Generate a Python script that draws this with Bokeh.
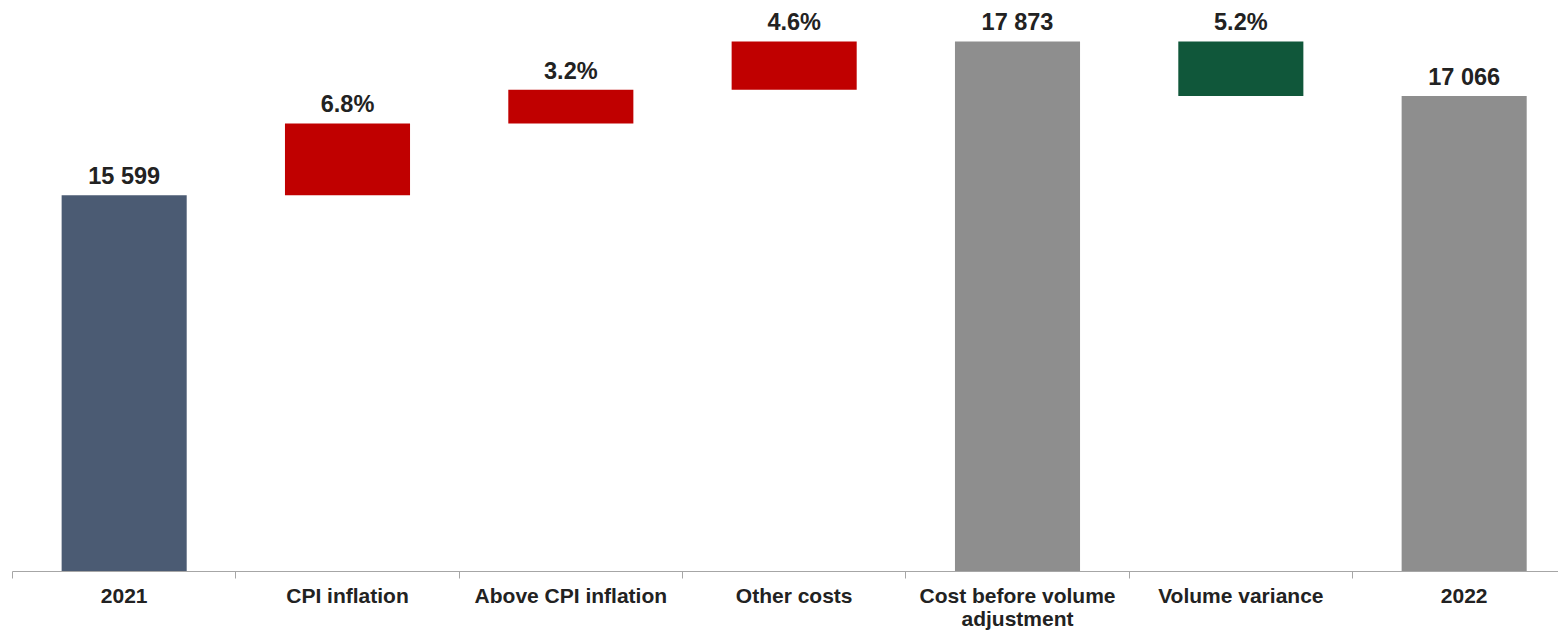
from bokeh.plotting import figure
from bokeh.models import Range1d, FixedTicker, ColumnDataSource
from bokeh.core.properties import value
from bokeh.embed import file_html
from bokeh.resources import INLINE

# ---- data ----
categories = ["2021", "CPI inflation", "Above CPI inflation", "Other costs",
              "Cost before volume\nadjustment", "Volume variance", "2022"]
measures = ["absolute", "relative", "relative", "relative", "total", "relative", "total"]
amounts = [15599, 1061, 499, 714, 0, -807, 0]

# ---- colours (style) ----
C_BASE = "#4B5B73"
C_UP = "#C00000"
C_DOWN = "#10573A"
C_TOTAL = "#8E8E8E"

# ---- waterfall computation ----
xs, bottoms, tops, colors, labels = [], [], [], [], []
running = 0
base = None
for i, (m, a) in enumerate(zip(measures, amounts)):
    xs.append(i)
    if m == "absolute":
        running = a
        base = a
        bottoms.append(0)
        tops.append(a)
        colors.append(C_BASE)
        labels.append(f"{a:,}".replace(",", " "))
    elif m == "total":
        bottoms.append(0)
        tops.append(running)
        colors.append(C_TOTAL)
        labels.append(f"{running:,}".replace(",", " "))
    else:
        lo, hi = sorted([running, running + a])
        bottoms.append(lo)
        tops.append(hi)
        colors.append(C_UP if a > 0 else C_DOWN)
        labels.append(f"{abs(a) / base * 100:.1f}%")
        running += a

src = ColumnDataSource(dict(x=xs, bottom=bottoms, top=tops, color=colors, label=labels))

p = figure(width=1558, height=632, output_backend="svg", toolbar_location=None,
           x_range=Range1d(-0.5, 6.4224), y_range=Range1d(10032, 18478),
           y_axis_location=None, min_border_left=12, min_border_right=0,
           min_border_top=0, min_border_bottom=60)
p.outline_line_color = None
p.grid.visible = False
p.background_fill_color = "white"
p.border_fill_color = "white"

p.vbar(x="x", bottom="bottom", top="top", width=0.56, color="color", line_color=None, source=src)
p.text(x="x", y="top", text="label", source=src, text_align="center", text_baseline="alphabetic",
       y_offset=-19, text_font=value("Liberation Sans"), text_font_style="bold",
       text_font_size="23.5px", text_color="#222222")

ax = p.xaxis[0]
ax.ticker = FixedTicker(ticks=list(range(len(categories))),
                        minor_ticks=[i - 0.5 for i in range(len(categories) + 1)])
ax.major_label_overrides = {i: c for i, c in enumerate(categories)}
ax.major_tick_in = 0
ax.major_tick_out = 0
ax.minor_tick_in = 0
ax.minor_tick_out = 7
ax.minor_tick_line_color = "#A6A6A6"
ax.axis_line_color = "#A6A6A6"
ax.axis_line_width = 1
ax.major_label_standoff = 5
ax.major_label_text_font = "Liberation Sans"
ax.major_label_text_font_style = "bold"
ax.major_label_text_font_size = "21px"
ax.major_label_text_color = "#222222"
ax.major_label_text_line_height = 1.0

open("out.html", "w").write(file_html(p, INLINE))
